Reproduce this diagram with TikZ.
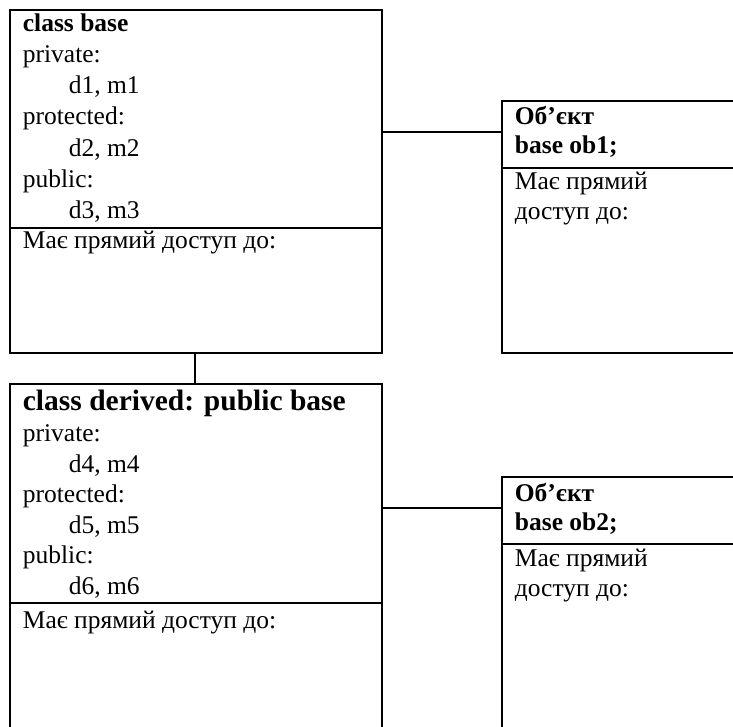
\documentclass[tikz,border=0pt]{standalone}
\usepackage{fontspec}
\setmainfont{Liberation Serif}
\usetikzlibrary{positioning}
\begin{document}
\begin{tikzpicture}[x=1pt, y=-1pt, line width=1.8pt,
  box/.style={draw, rectangle, anchor=north west, inner sep=0pt},
  txt/.style={anchor=base west, inner sep=0pt, font=\fontsize{25.5}{30}\selectfont},
  head/.style={txt, font=\fontsize{25.5}{30}\selectfont\bfseries}]
\useasboundingbox (0,0) rectangle (733,727);
\clip (0,0) rectangle (733,727);
% boxes
\node[box, minimum width=372pt, minimum height=343pt] (base) at (9,9) {};
\node[box, minimum width=260pt, minimum height=252pt] (obj1) at (501,100) {};
\node[box, minimum width=372pt, minimum height=360pt] (derived) at (9,383) {};
\node[box, minimum width=260pt, minimum height=270pt] (obj2) at (501,476) {};
% dividers
\draw (base.west |- 0,228) -- (base.east |- 0,228);
\draw (obj1.west |- 0,168) -- (obj1.east |- 0,168);
\draw (derived.west |- 0,603) -- (derived.east |- 0,603);
\draw (obj2.west |- 0,544) -- (obj2.east |- 0,544);
% class base
\node[head] (b0) at (22,32) {class base};
\node[txt] (b1) at (22,63) {private:};
\node[txt] (b2) at (68,94) {d1, m1};
\node[txt] (b3) at (22,125) {protected:};
\node[txt] (b4) at (68,157) {d2, m2};
\node[txt] (b5) at (22,188) {public:};
\node[txt] (b6) at (68,219) {d3, m3};
\node[txt] (b7) at (22,249) {Має прямий доступ до:};
% object ob1
\node[head] (o0) at (514,125) {Об’єкт};
\node[head] (o1) at (514,154) {base ob1;};
\node[txt] (o2) at (514,190) {Має прямий};
\node[txt] (o3) at (514,220) {доступ до:};
% class derived
\node[head, font=\fontsize{29.5}{34}\selectfont\bfseries] (d0) at (22,410) {class derived: public base};
\node[txt] (d1) at (22,441) {private:};
\node[txt] (d2) at (68,472) {d4, m4};
\node[txt] (d3) at (22,502) {protected:};
\node[txt] (d4) at (68,533) {d5, m5};
\node[txt] (d5) at (22,563) {public:};
\node[txt] (d6) at (68,594) {d6, m6};
\node[txt] (d7) at (22,628) {Має прямий доступ до:};
% object ob2
\node[head] (p0) at (514,501) {Об’єкт};
\node[head] (p1) at (514,530) {base ob2;};
\node[txt] (p2) at (514,566) {Має прямий};
\node[txt] (p3) at (514,596) {доступ до:};
% connectors
\coordinate (l1) at (441,132);
\coordinate (l2) at (195,367);
\coordinate (l3) at (441,508);
\draw (base.east |- l1) -- (obj1.west |- l1);
\draw (base.south -| l2) -- (derived.north -| l2);
\draw (derived.east |- l3) -- (obj2.west |- l3);
\end{tikzpicture}
\end{document}
